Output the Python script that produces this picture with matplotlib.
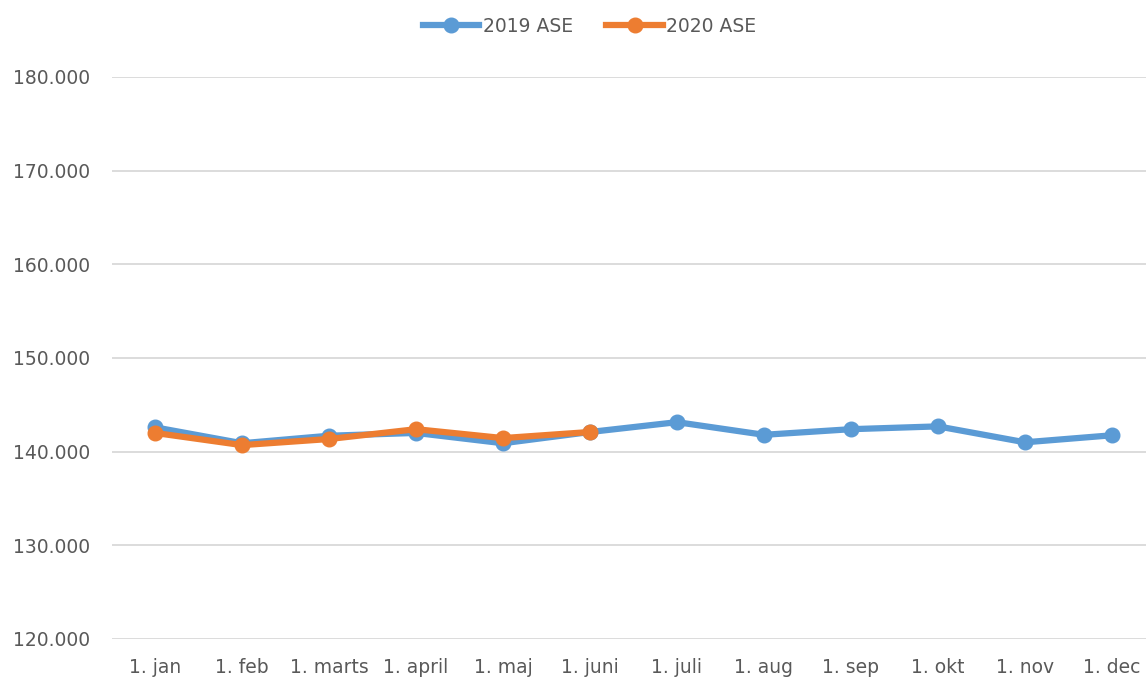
import matplotlib.pyplot as plt
import numpy as np

months = ["1. jan", "1. feb", "1. marts", "1. april", "1. maj", "1. juni",
          "1. juli", "1. aug", "1. sep", "1. okt", "1. nov", "1. dec"]
ase_2019 = [142600, 140900, 141700, 142000, 140900, 142100,
            143150, 141800, 142400, 142700, 141000, 141750]
ase_2020 = [142000, 140700, 141350, 142400, 141450, 142100]

blue = "#5b9bd5"
orange = "#ed7d31"
txt = "#595959"

fig = plt.figure(figsize=(11.46, 6.82), dpi=100)
ax = fig.add_axes([111.5 / 1146, 1 - 639 / 682, 1 - 111.5 / 1146, (639 - 77) / 682])

x = np.arange(len(months))
ax.plot(x, ase_2019, color=blue, lw=4.5, marker="o", ms=10.5, label="2019 ASE", zorder=3)
ax.plot(np.arange(len(ase_2020)), ase_2020, color=orange, lw=4.5, marker="o", ms=10.5,
        label="2020 ASE", zorder=4)

ax.set_ylim(120000, 180000)
ax.set_xlim(-0.5, (1146 - 155) / 87)
ax.set_yticks(range(120000, 180001, 10000))
ax.set_yticklabels([f"{v // 1000}.000" for v in range(120000, 180001, 10000)])
ax.set_xticks(x)
ax.set_xticklabels(months)
ax.tick_params(length=0, labelsize=13.5, colors=txt, pad=14)
ax.tick_params(axis="y", pad=15.5)
ax.grid(axis="y", color="#d9d9d9", lw=1.3)
ax.set_axisbelow(True)
for s in ax.spines.values():
    s.set_visible(False)

fig.legend(loc="upper center", bbox_to_anchor=(0.5145, 1.0), ncol=2, frameon=False,
           fontsize=13.5, handlelength=3.0, columnspacing=1.8, labelcolor=txt,
           handletextpad=0.2)

fig.savefig("out.png", dpi=100)
